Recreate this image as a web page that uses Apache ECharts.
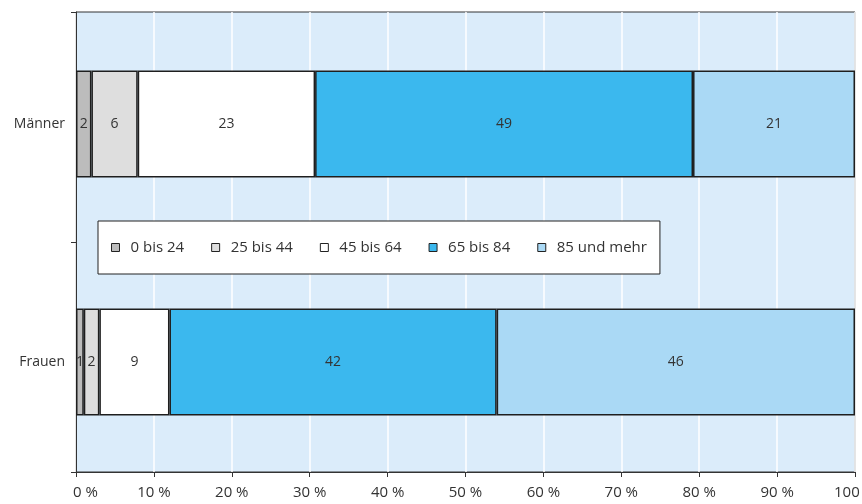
<!DOCTYPE html>
<html>
<head>
<meta charset="utf-8">
<script src="https://cdn.jsdelivr.net/npm/echarts@6/dist/echarts.min.js"></script>
<style>
  html, body { margin: 0; padding: 0; background: #ffffff; }
  #chart { width: 862px; height: 504px; }
</style>
</head>
<body>
<div id="chart"></div>
<script>
// Rows of the bar chart (top to bottom)
const categories = ['Männer', 'Frauen'];

// Age groups, one stacked segment each
const ageGroups = ['0 bis 24', '25 bis 44', '45 bis 64', '65 bis 84', '85 und mehr'];

// Shares in % per row (Männer, Frauen)
const age0to24 = [2, 1];
const age25to44 = [6, 2];
const age45to64 = [23, 9];
const age65to84 = [49, 42];
const age85plus = [21, 46];

// Percent axis ticks
const xTickValues = [0, 10, 20, 30, 40, 50, 60, 70, 80, 90, 100];

const seriesValues = [age0to24, age25to44, age45to64, age65to84, age85plus];
const palette = ['#bcbcbc', '#dedede', '#ffffff', '#3bb8ee', '#aad9f5'];

// Each row is scaled to a full 100 % bar, the label keeps the stated value
const rowTotals = categories.map((_, i) =>
  seriesValues.reduce((sum, arr) => sum + arr[i], 0));

const FONT = 'Open Sans';
const TEXT = '#333333';

const series = ageGroups.map((name, s) => ({
  name: name,
  type: 'bar',
  stack: 'total',
  xAxisIndex: 1,
  yAxisIndex: 1,
  barWidth: '45%',
  data: seriesValues[s].map((v, i) => ({ value: v / rowTotals[i] * 100, raw: v })),
  itemStyle: { color: palette[s], borderColor: '#1e1e1e', borderWidth: 1.5 },
  label: {
    show: true,
    position: 'inside',
    color: TEXT,
    fontFamily: FONT,
    fontSize: 14,
    formatter: p => String(p.data.raw)
  },
  emphasis: { disabled: true }
}));

const chart = echarts.init(document.getElementById('chart'), null, { renderer: 'canvas' });

chart.setOption({
  animation: false,
  textStyle: { fontFamily: FONT },
  grid: [
    // plot frame with background, grid lines and axes
    { left: 76, right: 7, top: 12, bottom: 32, show: true, outerBoundsMode: 'none',
      backgroundColor: '#dbecfa', borderColor: '#333333', borderWidth: 1 },
    // band layout for the bars
    { left: 76, right: 7, top: 5, bottom: 23, outerBoundsMode: 'none' }
  ],
  legend: {
    data: ageGroups,
    left: 98,
    top: 221,
    orient: 'horizontal',
    backgroundColor: '#ffffff',
    borderColor: '#222222',
    borderWidth: 1,
    padding: [19, 13, 19, 13],
    itemWidth: 8,
    itemHeight: 8,
    itemGap: 27,
    icon: 'rect',
    itemStyle: { borderColor: '#222222', borderWidth: 1 },
    textStyle: { color: TEXT, fontFamily: FONT, fontSize: 15, padding: [0, 0, 0, 6] },
    selectedMode: false
  },
  xAxis: [
    {
      gridIndex: 0,
      type: 'value',
      min: xTickValues[0],
      max: xTickValues[xTickValues.length - 1],
      interval: xTickValues[1] - xTickValues[0],
      axisLine: { show: true, lineStyle: { color: '#333333', width: 1 } },
      axisTick: { show: true, length: 5, lineStyle: { color: '#333333' } },
      splitLine: { show: true, lineStyle: { color: '#ffffff', width: 1.5 } },
      axisLabel: {
        color: TEXT,
        fontFamily: FONT,
        fontSize: 15,
        margin: 13,
        formatter: v => v === 0 ? '{first|' + v + ' %}' : v + ' %',
        rich: { first: { color: TEXT, fontFamily: FONT, fontSize: 15, padding: [0, 0, 0, 19] } }
      }
    },
    {
      gridIndex: 1,
      type: 'value',
      min: xTickValues[0],
      max: xTickValues[xTickValues.length - 1],
      show: false
    }
  ],
  yAxis: [
    {
      gridIndex: 0,
      type: 'category',
      inverse: true,
      data: categories,
      axisLine: { show: true, lineStyle: { color: '#333333', width: 1 } },
      axisTick: { show: true, length: 5, lineStyle: { color: '#333333' } },
      axisLabel: { show: false },
      splitLine: { show: false }
    },
    {
      gridIndex: 1,
      type: 'category',
      inverse: true,
      data: categories,
      axisLine: { show: false },
      axisTick: { show: false },
      splitLine: { show: false },
      axisLabel: { color: TEXT, fontFamily: FONT, fontSize: 14, margin: 11 }
    }
  ],
  series: series
});
</script>
</body>
</html>
